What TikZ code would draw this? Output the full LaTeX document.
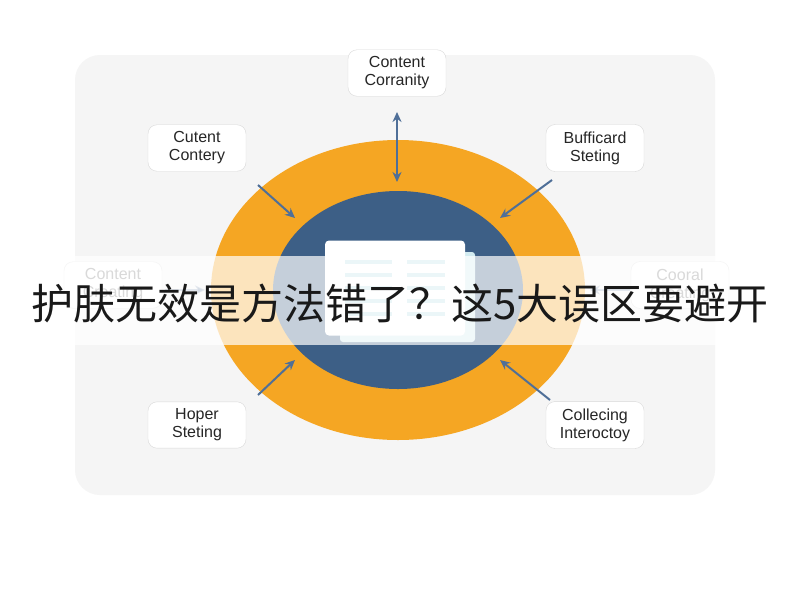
\documentclass[tikz,border=0pt]{standalone}
\usepackage{fontspec}
\setmainfont{Liberation Sans}
\newfontfamily\cjk{Noto Sans CJK SC}
\usetikzlibrary{arrows.meta,shapes.geometric}
\definecolor{orng}{HTML}{F5A623}
\definecolor{navy}{HTML}{3D5F86}
\definecolor{arr}{HTML}{4F6F98}
\definecolor{teal}{HTML}{BFE3EA}
\tikzset{
 lbl/.style={draw=black!15,fill=white,rounded corners=9pt,align=center,font=\fontsize{16}{18}\selectfont,text=black!85,inner sep=7pt,minimum width=98pt},
 ar/.style={draw=arr,line width=2pt,-{Stealth[length=10pt,width=9pt]}},
 ln/.style={teal,line width=4pt}
}
\begin{document}
\begin{tikzpicture}[x=1pt,y=-1pt]
\useasboundingbox (0,0) rectangle (800,600);
\fill[white] (0,0) rectangle (800,600);
\fill[black!4,rounded corners=25pt] (75,55) rectangle (715,495);
\node[ellipse,fill=orng,minimum width=374pt,minimum height=300pt,inner sep=0] (outer) at (398,290) {};
\node[ellipse,fill=navy,minimum width=250pt,minimum height=198pt,inner sep=0] (inner) at (398,290) {};
\fill[teal!70,rounded corners=3pt] (340,252) rectangle (475,342);
\node[fill=white,rounded corners=4pt,minimum width=140pt,minimum height=95pt,inner sep=0] (doc) at (395,288) {};
\foreach \y in {262,275,288,301,314}{
 \draw[ln] (345,\y) -- (392,\y);
 \draw[ln] (407,\y) -- (445,\y);
}
\node[lbl] (top) at (397,73) {Content\\Corranity};
\node[lbl] (ul) at (197,148) {Cutent\\Contery};
\node[lbl] (ur) at (595,148) {Bufficard\\Steting};
\node[lbl,text=black!50] (ml) at (113,285) {Content\\Creating};
\node[lbl,text=black!50] (mr) at (680,285) {Cooral\\Creating};
\node[lbl] (ll) at (197,425) {Hoper\\Steting};
\node[lbl] (lr) at (595,425) {Collecing\\Interoctoy};
\coordinate (t1) at (397,112); \coordinate (t2) at (397,182);
\draw[ar,{Stealth[length=10pt,width=9pt]}-{Stealth[length=10pt,width=9pt]}] (t1) -- (t2);
\coordinate (a1) at (258,185); \coordinate (a2) at (295,218);
\draw[ar] (a1) -- (a2);
\coordinate (b1) at (552,180); \coordinate (b2) at (500,218);
\draw[ar] (b1) -- (b2);
\coordinate (c1) at (258,395); \coordinate (c2) at (295,360);
\draw[ar] (c1) -- (c2);
\coordinate (d1) at (550,400); \coordinate (d2) at (500,360);
\draw[ar] (d1) -- (d2);
\coordinate (e1) at (165,290); \coordinate (e2) at (205,290);
\draw[ar,opacity=0.5] (e1) -- (e2);
\coordinate (f1) at (630,290); \coordinate (f2) at (590,290);
\draw[ar,opacity=0.5] (f1) -- (f2);
\fill[white,opacity=0.7] (30,256) rectangle (800,345);
\node[font=\cjk\fontsize{42}{44}\selectfont,text=black!90] (title) at (400,303) {护肤无效是方法错了？这5大误区要避开};
\end{tikzpicture}
\end{document}
